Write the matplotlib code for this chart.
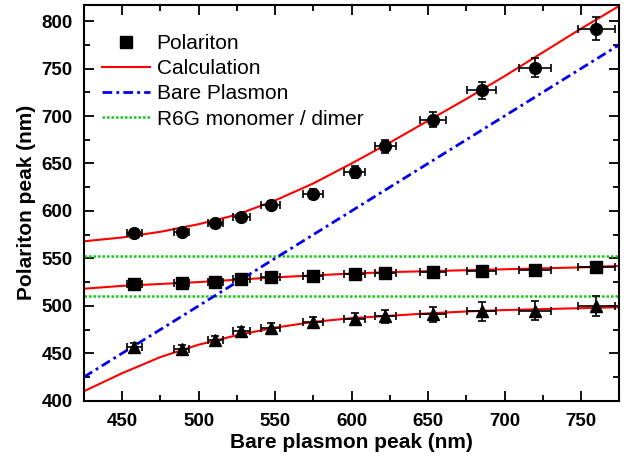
import matplotlib
matplotlib.use('Agg')
import matplotlib.pyplot as plt
from matplotlib.lines import Line2D

plt.rcParams['font.family'] = ['Liberation Sans', 'DejaVu Sans']

# measured polaritons
plasmon = [458, 489, 511, 528, 547, 575, 602, 622, 653, 685, 720, 760]
upper = [577, 578, 587, 594, 606, 618, 641, 668, 696, 727, 751, 792]
middle = [523, 524, 525, 528, 530, 531, 534, 535, 536, 537, 538, 541]
lower = [457, 455, 464, 473, 477, 483, 486, 489, 491, 494, 495, 500]
x_err = [5, 5, 5, 5.5, 6, 6.5, 7, 7, 8.5, 9.5, 10.5, 12]
upper_err = [3, 3, 3, 3.5, 4, 5, 6, 6.5, 8, 9, 10, 12]
middle_err = [2, 2, 2, 2, 2, 2, 2, 2.5, 2.5, 2.5, 3, 3]
lower_err = [4, 4, 4, 4.5, 5, 5.5, 6, 7, 8, 9.5, 10, 10.5]

# coupled oscillator curves
calc_x = [425, 450, 475, 500, 525, 550, 575, 600, 625, 650, 675, 700, 725, 750, 775]
calc_upper = [568, 572, 578, 586, 596, 611, 629, 650, 672, 695, 718, 742, 767, 792, 816]
calc_middle = [518, 521, 523, 525, 527.5, 530, 532, 534, 535.5, 536.5, 537.5, 538.5, 539.5, 540.5, 542]
calc_lower = [410, 429, 446, 459, 469, 477, 483, 487, 489.5, 492, 494, 495.5, 496.5, 497.5, 498.5]

bare_x = [425, 775]
r6g = [553, 510]

red = '#ff0000'
blue = '#0000ee'
green = '#11cc11'
dashdot = (0, (3.5, 1.5, 1, 1.5))
dots = (0, (1, 0.8))

fig = plt.figure(figsize=(6.43, 4.62), dpi=100)
ax = fig.add_axes([0.1306, 0.1327, 0.8324, 0.8565])

for yv in r6g:
    ax.axhline(yv, color=green, lw=1.8, ls=dots)
ax.plot(bare_x, bare_x, color=blue, lw=2, ls=dashdot)
for cy in (calc_upper, calc_middle, calc_lower):
    ax.plot(calc_x, cy, color=red, lw=1.5)

ebkw = dict(color='black', ls='none', ms=8.5, elinewidth=1.2, capsize=3, capthick=1.2)
ax.errorbar(plasmon, upper, xerr=x_err, yerr=upper_err, marker='o', **ebkw)
ax.errorbar(plasmon, middle, xerr=x_err, yerr=middle_err, marker='s', **ebkw)
ax.errorbar(plasmon, lower, xerr=x_err, yerr=lower_err, marker='^', **ebkw)

ax.set_xlim(425, 775)
ax.set_ylim(400, 817)
ax.set_xticks([450, 500, 550, 600, 650, 700, 750])
ax.set_yticks(range(400, 801, 50))
ax.set_xticks(range(425, 776, 25), minor=True)
ax.set_yticks(range(400, 816, 25), minor=True)
ax.tick_params(which='both', direction='in', top=True, right=True, width=1.3)
ax.tick_params(which='major', length=7, labelsize=13.5)
ax.tick_params(axis='x', which='major', pad=9)
ax.tick_params(axis='y', which='major', pad=8)
ax.tick_params(which='minor', length=4)
for lab in ax.get_xticklabels() + ax.get_yticklabels():
    lab.set_fontweight('bold')
for sp in ax.spines.values():
    sp.set_linewidth(1.5)

ax.set_xlabel('Bare plasmon peak (nm)', fontsize=15, fontweight='bold', labelpad=2)
ax.set_ylabel('Polariton peak (nm)', fontsize=15, fontweight='bold', labelpad=4)

handles = [
    Line2D([], [], color='black', marker='s', ls='none', ms=8),
    Line2D([], [], color=red, lw=1.5),
    Line2D([], [], color=blue, lw=2, ls=dashdot),
    Line2D([], [], color=green, lw=1.8, ls=dots),
]
labels = ['Polariton', 'Calculation', 'Bare Plasmon', 'R6G monomer / dimer']
ax.legend(handles, labels, loc='upper left', bbox_to_anchor=(0.0176, 0.948), frameon=False,
          fontsize=15, handlelength=2.3, handletextpad=0.33, labelspacing=0.3, borderaxespad=0)

fig.savefig('out.png', dpi=100)
